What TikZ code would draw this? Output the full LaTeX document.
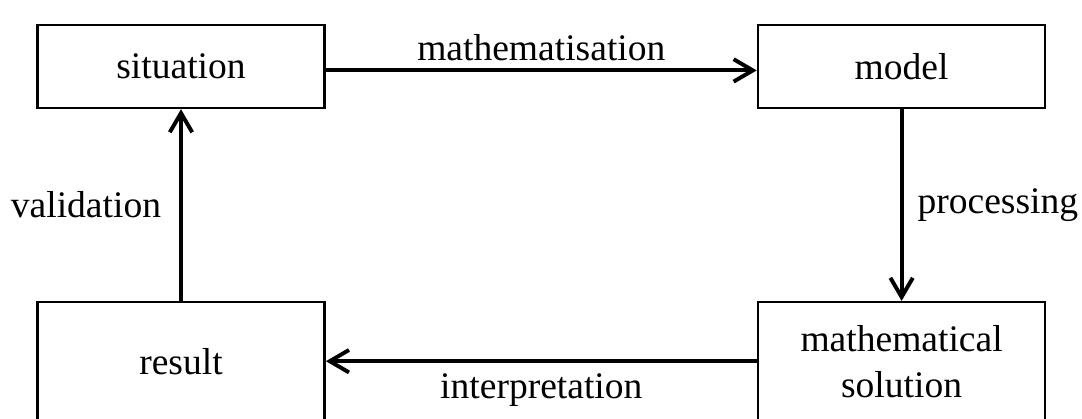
\documentclass[tikz,border=0pt]{standalone}
\usepackage{fontspec}
\setmainfont{Liberation Serif}
\usetikzlibrary{arrows.meta, positioning}

\begin{document}
\begin{tikzpicture}[auto,
  font=\fontsize{26.7}{32.7}\selectfont,
  block/.style={rectangle, draw=black, line width=1.8pt, align=center, minimum width=7.18cm, minimum height=2.075cm, inner sep=0pt},
  lowblock/.style={block, minimum height=2.95cm},
  arrow/.style={line width=2.8pt, -{Straight Barb[length=0.48cm, width=0.56cm, line width=2.8pt]}}]

\useasboundingbox (0,0) rectangle (27.05,-10.45);

\node[block] (situation) at (4.525,-1.66) {situation};
\node[block] (model) at (22.54,-1.66) {model};
\node[lowblock] (result) at (4.525,-9.03) {result};
\node[lowblock] (solution) at (22.54,-9.03) {mathematical\\solution};

\draw[arrow] ([yshift=-0.1cm]situation.east) -- node[above, inner sep=0.2cm] {mathematisation} ([yshift=-0.1cm]model.west);
\draw[arrow] (model) -- node[right, inner sep=0.35cm] {processing} (solution);
\draw[arrow] (solution) -- node[below, inner sep=0.25cm] {interpretation} (result);
\draw[arrow] (result) -- node[left, inner sep=0.45cm] {validation} (situation);

\end{tikzpicture}
\end{document}
